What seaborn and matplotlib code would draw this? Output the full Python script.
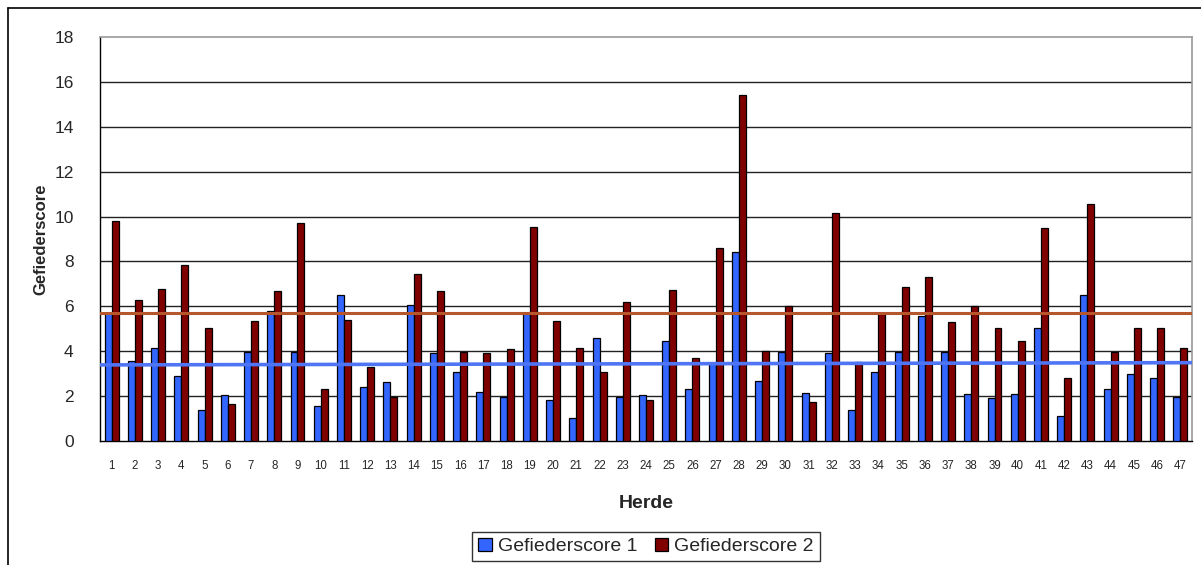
import numpy as np
import pandas as pd
import matplotlib
matplotlib.use("Agg")
import matplotlib.pyplot as plt
from matplotlib.lines import Line2D
import seaborn as sns

herden = list(range(1, 48))
score1 = [5.72, 3.58, 4.13, 2.91, 1.37, 2.04, 3.95, 5.78, 3.95, 1.55,
          6.51, 2.42, 2.63, 6.08, 3.92, 3.09, 2.18, 1.98, 5.69, 1.81,
          1.04, 4.58, 1.98, 2.05, 4.46, 2.30, 3.49, 8.44, 2.69, 3.95,
          2.14, 3.91, 1.37, 3.08, 3.95, 5.57, 3.95, 2.10, 1.92, 2.10,
          5.02, 1.10, 6.52, 2.32, 2.97, 2.81, 1.98]
score2 = [9.78, 6.29, 6.79, 7.83, 5.02, 1.65, 5.35, 6.67, 9.72, 2.30,
          5.39, 3.30, 1.98, 7.44, 6.67, 3.97, 3.94, 4.09, 9.55, 5.35,
          4.13, 3.09, 6.18, 1.81, 6.73, 3.70, 8.60, 15.42, 4.01, 6.02,
          1.75, 10.15, 3.52, 5.69, 6.86, 7.30, 5.29, 6.03, 5.02, 4.46,
          9.51, 2.81, 10.55, 3.97, 5.02, 5.02, 4.15]
series_names = ["Gefiederscore 1", "Gefiederscore 2"]
trend1 = [3.39, 3.49]   # trend line of score 1 (first herd, last herd)
level2 = [5.69, 5.69]   # reference level of score 2

df = pd.DataFrame({
    "Herde": herden * 2,
    "Score": score1 + score2,
    "Reihe": [series_names[0]] * len(herden) + [series_names[1]] * len(herden),
})

sns.set_style("white")
plt.rcParams["font.family"] = ["Liberation Sans", "DejaVu Sans"]

fig = plt.figure(figsize=(12.01, 5.65), dpi=100)
ax = fig.add_axes([100 / 1201, 1 - 441 / 565, 1092 / 1201, 404 / 565])

blue = "#3366FF"
red = "#800000"

sns.barplot(data=df, x="Herde", y="Score", hue="Reihe", ax=ax,
            palette=[blue, red], width=0.6, edgecolor="black", linewidth=0.9,
            errorbar=None, legend=True, zorder=3, saturation=1)

n = len(herden)
ax.plot([-0.5, n - 0.5], level2, color="#B5562C", lw=2.2, zorder=4)
ax.plot([-0.5, n - 0.5], trend1, color="#4F75F5", lw=2.6, zorder=4)

ax.set_xlim(-0.5, n - 0.5)
ax.set_ylim(0, 18)
ax.set_yticks(np.arange(0, 19, 2))
ax.set_yticklabels([str(v) for v in range(0, 19, 2)], fontsize=12.5)
ax.set_xticks(range(n))
ax.set_xticklabels([str(h) for h in herden], fontsize=8.3)
ax.set_xticks(np.arange(-0.5, n, 1), minor=True)
ax.tick_params(axis="x", which="major", length=0, pad=14)
ax.tick_params(axis="x", which="minor", length=4, width=0.9, color="black", direction="out")
ax.tick_params(axis="y", which="major", length=5, width=0.9, color="black", direction="out", pad=14)

for v in range(2, 18, 2):
    ax.axhline(v, color="#222222", lw=1.0, zorder=1)

for side in ["top", "right"]:
    ax.spines[side].set_color("#9a9a9a")
    ax.spines[side].set_linewidth(1.2)
ax.spines["left"].set_color("black")
ax.spines["bottom"].set_color("black")
ax.spines["left"].set_linewidth(1.0)
ax.spines["bottom"].set_linewidth(1.0)

ax.set_xlabel("Herde", fontsize=14, fontweight="bold", labelpad=16)
ax.set_ylabel("Gefiederscore", fontsize=12, fontweight="bold", labelpad=4)

ax.legend_.remove()
handles = [plt.Rectangle((0, 0), 1, 1, facecolor=blue, edgecolor="black", lw=0.9),
           plt.Rectangle((0, 0), 1, 1, facecolor=red, edgecolor="black", lw=0.9)]
fig.legend(handles, series_names, loc="upper center",
           bbox_to_anchor=(646 / 1201, 1 - 532 / 565), ncol=2, fontsize=14,
           frameon=True, fancybox=False, edgecolor="black", handlelength=0.7,
           handleheight=0.7, handletextpad=0.3, columnspacing=0.9,
           borderpad=0.3, borderaxespad=0)

# outer chart frame (left and top edges)
fig.add_artist(Line2D([8 / 1201, 8 / 1201], [0, 1 - 8 / 565], color="black", lw=1.2,
                      transform=fig.transFigure))
fig.add_artist(Line2D([8 / 1201, 1], [1 - 8 / 565, 1 - 8 / 565], color="black", lw=1.2,
                      transform=fig.transFigure))

fig.savefig("out.png", dpi=100)
